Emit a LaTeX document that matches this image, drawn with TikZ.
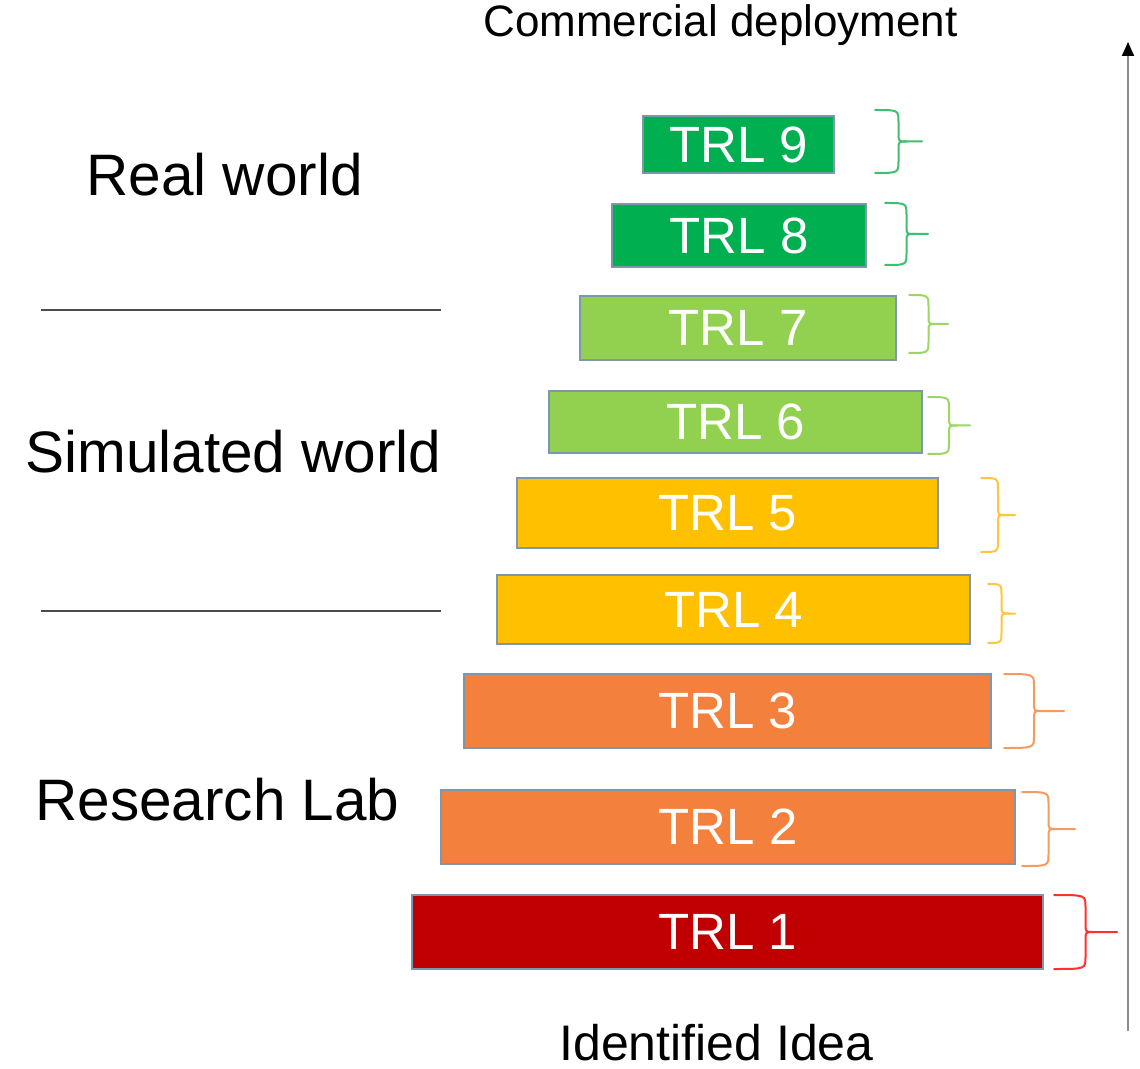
\documentclass[tikz,border=0pt]{standalone}
\usepackage{fontspec}
\setmainfont{Liberation Sans}
\usetikzlibrary{arrows.meta}
\definecolor{dkgreen}{HTML}{00B050}
\definecolor{ltgreen}{HTML}{92D050}
\definecolor{trlyellow}{HTML}{FFC000}
\definecolor{trlorange}{HTML}{F4803E}
\definecolor{trlred}{HTML}{C00000}
\definecolor{brdkgreen}{HTML}{3FBE70}
\definecolor{brltgreen}{HTML}{9CD766}
\definecolor{bryellow}{HTML}{FFC63A}
\definecolor{brorange}{HTML}{F89A5E}
\definecolor{brred}{HTML}{FF3030}
\definecolor{boxedge}{HTML}{7D98AE}
\tikzset{
  trlbox/.style={draw=boxedge, line width=1pt, inner sep=0pt, text=white,
    font=\fontsize{25.5}{30}\selectfont},
  bracestyle/.style={line width=1pt, line cap=round, line join=round},
  zonelabel/.style={anchor=base, inner sep=0pt, font=\fontsize{29.25}{34}\selectfont},
  sepline/.style={draw=black!70, line width=1pt},
  axisarrow/.style={draw=black!45, line width=1pt, -{Triangle[width=6pt,length=7pt,black]}}
}
\newcommand\trlbrace[5]{%
  \pgfmathsetmacro\bxs{(#1+#2)/2}%
  \pgfmathsetmacro\bym{(#3+#4)/2}%
  \draw[bracestyle,#5] (#1,#3) .. controls (\bxs,#3) .. (\bxs,#3+12) -- (\bxs,\bym-8)
     .. controls (\bxs,\bym) .. (\bxs+8,\bym) -- (#2,\bym);
  \draw[bracestyle,#5] (\bxs+8,\bym) .. controls (\bxs,\bym) .. (\bxs,\bym+8) -- (\bxs,#4-12)
     .. controls (\bxs,#4) .. (#1,#4);
}
\begin{document}
\begin{tikzpicture}[x=0.5pt,y=-0.5pt]
\useasboundingbox[fill=white] (0,0) rectangle (1140,1069);

% top / bottom labels
\node[anchor=base, inner sep=0pt, font=\fontsize{22}{26}\selectfont] (commercial) at (720.5,37) {Commercial deployment};
\node[anchor=base, inner sep=0pt, font=\fontsize{25}{30}\selectfont] (idea) at (716.5,1060) {Identified Idea};

% zone labels
\node[zonelabel] (real) at (224.5,196) {Real world};
\node[zonelabel] (sim) at (233.5,473) {Simulated world};
\node[zonelabel] (lab) at (217.5,820) {Research Lab};

% separator lines
\coordinate (s1a) at (41,310);
\coordinate (s1b) at (441,310);
\coordinate (s2a) at (41,611);
\coordinate (s2b) at (441,611);
\draw[sepline] (s1a) -- (s1b);
\draw[sepline] (s2a) -- (s2b);

% TRL boxes
\node[trlbox, fill=dkgreen,   minimum width=95.5pt,  minimum height=28.5pt] (t9) at (738.5,144.5) {TRL 9};
\node[trlbox, fill=dkgreen,   minimum width=127pt,   minimum height=31.5pt] (t8) at (739,235.5) {TRL 8};
\node[trlbox, fill=ltgreen,   minimum width=158pt,   minimum height=32pt]   (t7) at (738,328) {TRL 7};
\node[trlbox, fill=ltgreen,   minimum width=186.5pt, minimum height=31pt]   (t6) at (735.5,422) {TRL 6};
\node[trlbox, fill=trlyellow, minimum width=210.5pt, minimum height=35pt]   (t5) at (727.5,513) {TRL 5};
\node[trlbox, fill=trlyellow, minimum width=236.5pt, minimum height=34.5pt] (t4) at (733.5,609.5) {TRL 4};
\node[trlbox, fill=trlorange, minimum width=263.5pt, minimum height=37pt]   (t3) at (727.5,711) {TRL 3};
\node[trlbox, fill=trlorange, minimum width=287pt,   minimum height=37pt]   (t2) at (728,827) {TRL 2};
\node[trlbox, fill=trlred,    minimum width=315.5pt, minimum height=37pt]   (t1) at (727.5,932) {TRL 1};

% braces
\trlbrace{875}{922}{110}{173}{brdkgreen}
\trlbrace{885}{928}{203}{265}{brdkgreen}
\trlbrace{909}{948}{295}{353}{brltgreen}
\trlbrace{928}{970}{397}{454}{brltgreen}
\trlbrace{981}{1015}{478}{552}{bryellow}
\trlbrace{988}{1015}{584}{643}{bryellow}
\trlbrace{1004}{1064}{674}{748}{brorange}
\trlbrace{1022}{1075}{792}{866}{brorange}
\trlbrace{1054}{1117}{895}{969}{brred}

% axis arrow
\coordinate (abot) at (1128,1031);
\coordinate (atop) at (1128,42);
\draw[axisarrow] (abot) -- (atop);
\end{tikzpicture}
\end{document}
